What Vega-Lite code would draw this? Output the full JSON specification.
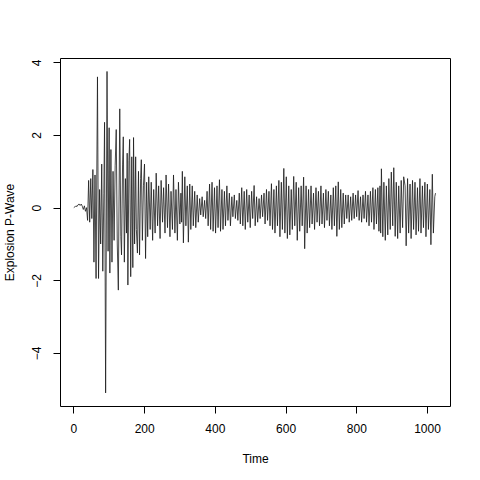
{
  "$schema": "https://vega.github.io/schema/vega-lite/v6.json",
  "width": 390,
  "height": 348,
  "autosize": "none",
  "padding": {"left": 60, "top": 58, "right": 30, "bottom": 74},
  "background": "white",
  "config": {
    "view": {"stroke": "black", "strokeWidth": 1},
    "font": "Liberation Sans",
    "axis": {"grid": false, "domain": false, "tickColor": "black", "tickSize": 7, "labelFontSize": 12, "labelColor": "black", "titleFontSize": 12, "titleFontWeight": "normal", "titleColor": "black"}
  },
  "data": {"values": [
    {"t":1,"v":0.0},{"t":4,"v":0.02},{"t":7,"v":0.05},{"t":10,"v":0.03},{"t":13,"v":0.08},{"t":16,"v":0.1},{"t":19,"v":0.06},{"t":22,"v":0.1},{"t":25,"v":0.04},{"t":28,"v":-0.05},{"t":31,"v":0.05},{"t":34,"v":-0.1},{"t":37,"v":0.0},
    {"t":40,"v":-0.35},{"t":43,"v":0.75},{"t":46,"v":-0.4},{"t":49,"v":0.8},{"t":52,"v":-0.3},{"t":55,"v":1.05},{"t":58,"v":-1.5},{"t":61,"v":0.9},{"t":64,"v":-1.95},{"t":68,"v":3.6},{"t":71,"v":-1.95},{"t":74,"v":0.5},{"t":77,"v":-1.0},{"t":80,"v":1.2},{"t":83,"v":-1.75},{"t":86,"v":0.4},{"t":88,"v":2.35},{"t":91,"v":-5.1},{"t":95,"v":3.75},{"t":98,"v":-1.2},{"t":101,"v":2.2},{"t":103,"v":-1.8},{"t":106,"v":1.6},{"t":109,"v":-1.5},{"t":112,"v":1.0},{"t":115,"v":-0.9},{"t":118,"v":1.15},{"t":121,"v":2.15},{"t":124,"v":-1.0},{"t":127,"v":-2.27},{"t":131,"v":2.72},{"t":134,"v":-0.8},{"t":136,"v":-1.3},{"t":139,"v":1.2},{"t":141,"v":1.95},{"t":144,"v":-1.5},{"t":147,"v":0.8},{"t":150,"v":-0.7},{"t":152,"v":1.5},{"t":154,"v":-2.13},{"t":157,"v":1.3},{"t":159,"v":1.88},{"t":162,"v":-1.9},{"t":165,"v":1.4},{"t":168,"v":-1.65},{"t":170,"v":1.93},{"t":173,"v":-1.0},{"t":176,"v":1.4},{"t":178,"v":-0.6},{"t":181,"v":-1.25},{"t":184,"v":1.0},{"t":187,"v":-1.3},{"t":190,"v":0.8},{"t":192,"v":1.32},{"t":195,"v":-0.9},{"t":198,"v":0.6},{"t":201,"v":1.2},{"t":204,"v":-1.4},{"t":207,"v":0.7},{"t":210,"v":-0.8},
    {"t":213,"v":0.85},{"t":217,"v":-0.6},{"t":220,"v":0.7},{"t":224,"v":-0.9},{"t":227,"v":0.5},{"t":231,"v":-0.7},{"t":234,"v":0.95},{"t":238,"v":-0.5},{"t":241,"v":0.6},{"t":245,"v":-0.85},{"t":248,"v":0.75},{"t":252,"v":-0.4},{"t":255,"v":0.55},{"t":259,"v":-0.7},{"t":262,"v":0.9},{"t":266,"v":-0.55},{"t":269,"v":0.65},{"t":273,"v":-0.8},{"t":276,"v":0.45},{"t":280,"v":-0.6},{"t":283,"v":0.9},{"t":287,"v":-0.7},{"t":290,"v":0.5},{"t":294,"v":-0.9},{"t":297,"v":0.7},{"t":301,"v":-0.45},{"t":304,"v":0.4},{"t":306,"v":-0.4},{"t":308,"v":1.0},{"t":311,"v":-0.97},{"t":315,"v":0.85},{"t":318,"v":-0.5},{"t":322,"v":0.6},{"t":325,"v":-0.95},{"t":329,"v":0.65},{"t":332,"v":-0.6},{"t":336,"v":0.6},{"t":339,"v":-0.5},{"t":343,"v":0.45},{"t":346,"v":-0.55},{"t":350,"v":0.35},{"t":353,"v":-0.4},{"t":357,"v":0.25},{"t":360,"v":-0.2},{"t":364,"v":0.3},{"t":367,"v":-0.25},{"t":371,"v":0.2},{"t":374,"v":-0.3},{"t":378,"v":0.45},{"t":381,"v":-0.5},{"t":385,"v":0.65},{"t":388,"v":-0.6},{"t":392,"v":0.7},{"t":395,"v":-0.65},{"t":399,"v":0.55},{"t":402,"v":-0.7},{"t":406,"v":0.6},{"t":409,"v":-0.55},{"t":413,"v":0.77},{"t":416,"v":-0.65},{"t":420,"v":0.5},{"t":423,"v":-0.6},{"t":427,"v":0.45},{"t":430,"v":-0.5},{"t":434,"v":0.6},{"t":437,"v":-0.35},{"t":441,"v":0.4},{"t":444,"v":-0.5},{"t":448,"v":0.3},{"t":451,"v":-0.25},{"t":455,"v":0.35},{"t":458,"v":-0.3},{"t":462,"v":0.2},{"t":465,"v":-0.35},{"t":469,"v":0.4},{"t":472,"v":-0.45},{"t":476,"v":0.55},{"t":479,"v":-0.5},{"t":483,"v":0.45},{"t":486,"v":-0.6},{"t":490,"v":0.5},{"t":493,"v":-0.4},{"t":497,"v":0.35},{"t":500,"v":-0.55},{"t":504,"v":0.45},{"t":507,"v":-0.3},{"t":511,"v":0.61},{"t":514,"v":-0.5},{"t":518,"v":0.3},{"t":521,"v":-0.4},{"t":525,"v":0.25},{"t":528,"v":-0.3},{"t":532,"v":0.35},{"t":535,"v":-0.25},{"t":539,"v":0.4},{"t":542,"v":-0.45},{"t":546,"v":0.5},{"t":549,"v":-0.35},{"t":553,"v":0.45},{"t":556,"v":-0.5},{"t":560,"v":0.66},{"t":563,"v":-0.6},{"t":567,"v":0.5},{"t":570,"v":-0.7},{"t":574,"v":0.6},{"t":577,"v":-0.5},{"t":581,"v":0.75},{"t":584,"v":-0.8},{"t":588,"v":0.7},{"t":591,"v":-0.6},{"t":595,"v":1.08},{"t":598,"v":-0.7},{"t":602,"v":0.85},{"t":605,"v":-0.85},{"t":609,"v":0.6},{"t":612,"v":-0.75},{"t":616,"v":0.5},{"t":619,"v":-0.6},{"t":623,"v":0.86},{"t":626,"v":-0.5},{"t":630,"v":0.7},{"t":633,"v":-0.9},{"t":637,"v":0.55},{"t":640,"v":-0.65},{"t":644,"v":0.6},{"t":647,"v":-0.5},{"t":651,"v":0.84},{"t":654,"v":-1.13},{"t":658,"v":0.6},{"t":661,"v":-0.7},{"t":665,"v":0.5},{"t":668,"v":-0.55},{"t":672,"v":0.6},{"t":675,"v":-0.45},{"t":679,"v":0.4},{"t":682,"v":-0.6},{"t":686,"v":0.55},{"t":689,"v":-0.4},{"t":693,"v":0.45},{"t":696,"v":-0.5},{"t":700,"v":0.6},{"t":703,"v":-0.45},{"t":707,"v":0.4},{"t":710,"v":-0.55},{"t":714,"v":0.5},{"t":717,"v":-0.35},{"t":721,"v":0.45},{"t":724,"v":-0.5},{"t":728,"v":0.35},{"t":731,"v":-0.6},{"t":735,"v":0.55},{"t":738,"v":-0.5},{"t":742,"v":0.6},{"t":745,"v":-0.79},{"t":749,"v":0.71},{"t":752,"v":-0.6},{"t":756,"v":0.5},{"t":759,"v":-0.55},{"t":763,"v":0.4},{"t":766,"v":-0.45},{"t":770,"v":0.35},{"t":773,"v":-0.3},{"t":777,"v":0.35},{"t":780,"v":-0.4},{"t":784,"v":0.3},{"t":787,"v":-0.35},{"t":791,"v":0.4},{"t":794,"v":-0.3},{"t":798,"v":0.35},{"t":801,"v":-0.25},{"t":805,"v":0.47},{"t":808,"v":-0.35},{"t":812,"v":0.3},{"t":815,"v":-0.4},{"t":819,"v":0.35},{"t":822,"v":-0.3},{"t":826,"v":0.45},{"t":829,"v":-0.4},{"t":833,"v":0.35},{"t":836,"v":-0.5},{"t":840,"v":0.45},{"t":843,"v":-0.4},{"t":847,"v":0.55},{"t":850,"v":-0.6},{"t":854,"v":0.5},{"t":857,"v":-0.45},{"t":861,"v":0.55},{"t":864,"v":-0.65},{"t":867,"v":0.6},{"t":869,"v":-0.7},{"t":871,"v":1.07},{"t":875,"v":-0.8},{"t":878,"v":0.7},{"t":882,"v":-0.9},{"t":885,"v":0.6},{"t":889,"v":-0.75},{"t":892,"v":0.8},{"t":896,"v":-0.6},{"t":899,"v":0.98},{"t":903,"v":-0.5},{"t":906,"v":1.1},{"t":910,"v":-0.79},{"t":913,"v":0.7},{"t":917,"v":-0.85},{"t":920,"v":0.6},{"t":924,"v":-0.7},{"t":927,"v":0.75},{"t":931,"v":-0.55},{"t":934,"v":0.85},{"t":938,"v":0.6},{"t":941,"v":-1.05},{"t":945,"v":0.8},{"t":948,"v":-0.7},{"t":952,"v":0.65},{"t":955,"v":-0.85},{"t":959,"v":0.75},{"t":962,"v":-0.6},{"t":966,"v":0.7},{"t":969,"v":-0.75},{"t":973,"v":0.55},{"t":976,"v":-0.65},{"t":980,"v":0.8},{"t":983,"v":-0.7},{"t":987,"v":0.6},{"t":990,"v":-0.55},{"t":994,"v":0.7},{"t":997,"v":-0.8},{"t":1001,"v":0.65},{"t":1004,"v":-0.6},{"t":1008,"v":0.5},{"t":1011,"v":-1.02},{"t":1015,"v":0.92},{"t":1018,"v":-0.7},{"t":1022,"v":0.3},{"t":1024,"v":0.4}
  ]},
  "mark": {"type": "line", "color": "#1a1a1a", "strokeWidth": 0.8, "clip": true},
  "encoding": {
    "x": {"field": "t", "type": "quantitative", "title": "Time",
      "scale": {"domain": [-38, 1065], "nice": false, "zero": false},
      "axis": {"values": [0, 200, 400, 600, 800, 1000], "format": "d", "labelPadding": 10, "titlePadding": 19}},
    "y": {"field": "v", "type": "quantitative", "title": "Explosion P-Wave",
      "scale": {"domain": [-5.46, 4.12], "nice": false, "zero": false},
      "axis": {"values": [-4, -2, 0, 2, 4], "labelAngle": -90, "labelAlign": "center", "labelBaseline": "bottom", "labelPadding": 10, "titlePadding": 14}}
  }
}
